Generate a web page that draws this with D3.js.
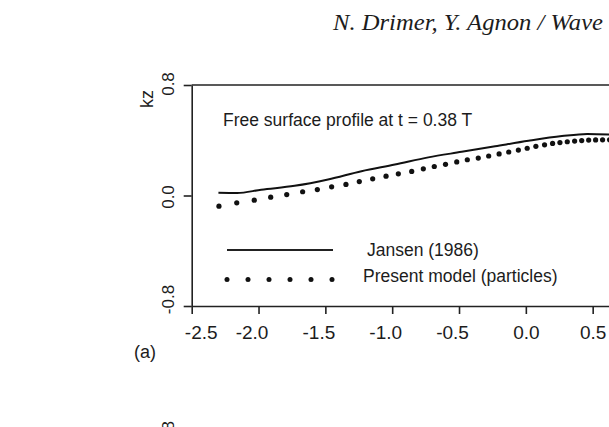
<!DOCTYPE html>
<html lang="en">
<head>
<meta charset="UTF-8">
<title>Free surface profile</title>
<script src="https://d3js.org/d3.v7.min.js"></script>
<style>
    body { margin: 0; padding: 0; background: #fff; }
    svg { display: block; }
    text { fill: #1c1c1c; font-family: "Liberation Sans", Arial, sans-serif; }
</style>
</head>
<body>
<svg id="chart" width="609" height="427"></svg>
<script>
    // values
    const xTicks = [-2.5, -2.0, -1.5, -1.0, -0.5, 0.0, 0.5, 1.0];
    const yTicks = [-0.8, 0.0, 0.8];

    // Jansen (1986), solid line
    const jansenX = [-2.30, -2.16, -1.98, -1.73, -1.48, -1.23, -0.98, -0.73, -0.48, -0.23, 0.02, 0.27, 0.46, 0.62, 0.70];
    const jansenY = [0.020, 0.018, 0.042, 0.070, 0.116, 0.176, 0.224, 0.276, 0.316, 0.356, 0.396, 0.430, 0.446, 0.442, 0.438];

    // Present model (particles), dots
    const modelX = [-2.296, -2.163, -2.032, -1.909, -1.789, -1.670, -1.560, -1.453, -1.346, -1.246,
                    -1.146, -1.046, -0.954, -0.854, -0.767, -0.685, -0.601, -0.517, -0.438, -0.356,
                    -0.278, -0.200, -0.128, -0.056, 0.010, 0.075, 0.140, 0.200, 0.255, 0.310,
                    0.365, 0.418, 0.470, 0.522, 0.574, 0.626];
    const modelY = [-0.077, -0.053, -0.034, -0.012, 0.007, 0.027, 0.043, 0.063, 0.080, 0.101,
                    0.121, 0.140, 0.157, 0.174, 0.193, 0.210, 0.226, 0.243, 0.259, 0.271,
                    0.286, 0.301, 0.315, 0.329, 0.342, 0.356, 0.367, 0.377, 0.383, 0.389,
                    0.394, 0.398, 0.401, 0.402, 0.403, 0.403];

    const svg = d3.select("#chart");
    svg.append("rect").attr("width", 609).attr("height", 427).attr("fill", "#fff");

    // plot runs off the right edge of the crop
    const x = d3.scaleLinear().domain([-2.5, 1.0]).range([191.7, 659.5]);
    const y = d3.scaleLinear().domain([-0.8, 0.8]).range([306, 85]);

    // running header
    svg.append("text")
        .attr("x", 333).attr("y", 30)
        .attr("textLength", 270).attr("lengthAdjust", "spacingAndGlyphs")
        .style("font-family", "'Liberation Serif', 'Times New Roman', serif")
        .style("font-style", "italic")
        .style("font-size", "23px")
        .text("N. Drimer, Y. Agnon / Wave");

    // top frame line
    svg.append("line")
        .attr("x1", x(-2.5)).attr("x2", x(1.0))
        .attr("y1", y(0.8)).attr("y2", y(0.8))
        .attr("stroke", "#222").attr("stroke-width", 1.6);

    // x axis
    const xAxis = svg.append("g")
        .attr("transform", `translate(0,${y(-0.8)})`)
        .call(d3.axisBottom(x).tickValues(xTicks).tickSize(8).tickSizeOuter(0)
            .tickFormat(d => d.toFixed(1)));
    xAxis.selectAll("text")
        .attr("y", 33).attr("dy", 0)
        .attr("dx", d => d === -2.5 ? 9 : (d < 0 ? -7 : 0))
        .style("font-size", "19px")
        .attr("fill", "#1c1c1c");

    // y axis, labels rotated
    const yAxis = svg.append("g")
        .attr("transform", `translate(${x(-2.5)},0)`)
        .call(d3.axisLeft(y).tickValues(yTicks).tickSize(8).tickSizeOuter(0)
            .tickFormat(d => d.toFixed(1)));
    yAxis.selectAll("text")
        .attr("transform", "rotate(-90)")
        .attr("text-anchor", "middle")
        .attr("x", d => d === -0.8 ? 7 : (d === 0 ? -1 : 1.5))
        .attr("y", -18).attr("dy", 0)
        .style("font-size", "17px")
        .attr("fill", "#1c1c1c");

    [xAxis, yAxis].forEach(a => {
        a.select(".domain").attr("stroke", "#222").attr("stroke-width", 1.6);
        a.selectAll(".tick line").attr("stroke", "#222").attr("stroke-width", 1.6);
    });

    svg.append("text")
        .attr("transform", "translate(153,99) rotate(-90)")
        .attr("text-anchor", "middle")
        .style("font-size", "18px")
        .text("kz");

    svg.append("text")
        .attr("x", 145).attr("y", 358)
        .attr("text-anchor", "middle")
        .style("font-size", "18px")
        .text("(a)");

    // top of next panel's tick label, cut by the crop
    svg.append("text")
        .attr("transform", "translate(174,421) rotate(-90)")
        .attr("text-anchor", "end")
        .style("font-size", "17px")
        .text("0.8");

    svg.append("text")
        .attr("x", 223).attr("y", 125.5)
        .style("font-size", "17.5px")
        .text("Free surface profile at t = 0.38 T");

    // Jansen line
    const jansen = jansenX.map((v, i) => [v, jansenY[i]]);
    svg.append("path")
        .datum(jansen)
        .attr("fill", "none")
        .attr("stroke", "#111")
        .attr("stroke-width", 2)
        .attr("d", d3.line().x(d => x(d[0])).y(d => y(d[1])).curve(d3.curveMonotoneX));

    // model particles
    svg.append("g").selectAll("circle")
        .data(modelX.map((v, i) => [v, modelY[i]]))
        .enter().append("circle")
        .attr("cx", d => x(d[0]))
        .attr("cy", d => y(d[1]))
        .attr("r", 2.6)
        .attr("fill", "#111");

    // legend
    svg.append("line")
        .attr("x1", 227).attr("x2", 333)
        .attr("y1", 250).attr("y2", 250)
        .attr("stroke", "#222").attr("stroke-width", 1.8);
    svg.append("g").selectAll("circle")
        .data(d3.range(6))
        .enter().append("circle")
        .attr("cx", i => 227 + i * 21)
        .attr("cy", 279.5)
        .attr("r", 2.5)
        .attr("fill", "#111");
    svg.append("text")
        .attr("x", 367).attr("y", 256)
        .style("font-size", "17.5px")
        .text("Jansen (1986)");
    svg.append("text")
        .attr("x", 363).attr("y", 282)
        .style("font-size", "17.5px")
        .text("Present model (particles)");
</script>
</body>
</html>
